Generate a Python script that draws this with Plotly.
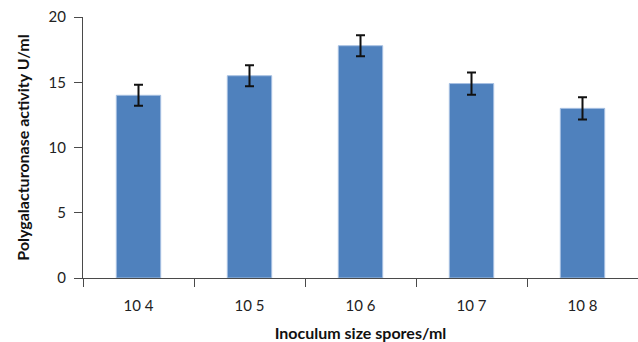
import plotly.graph_objects as go

# Inoculum size categories and measured polygalacturonase activity
categories = ["10 4", "10 5", "10 6", "10 7", "10 8"]
activity = [14.0, 15.5, 17.8, 14.9, 13.0]
errors = [0.8, 0.8, 0.8, 0.85, 0.85]
y_ticks = [0, 5, 10, 15, 20]

axis_color = "#4a4a4a"
font_family = "Lato, 'Open Sans', sans-serif"

fig = go.Figure(
    go.Bar(
        x=categories,
        y=activity,
        width=0.4,
        marker=dict(color="#4F81BD", line=dict(color="#a7c0e2", width=1)),
        error_y=dict(
            type="data",
            array=errors,
            visible=True,
            color="#111111",
            thickness=2,
            width=4.5,
        ),
    )
)

fig.update_layout(
    width=638,
    height=342,
    margin=dict(l=83, r=0, t=17, b=62),
    paper_bgcolor="white",
    plot_bgcolor="white",
    showlegend=False,
    font=dict(family=font_family, size=15, color="#222222"),
    bargap=0.6,
)

fig.update_xaxes(
    type="category",
    showline=True,
    linecolor=axis_color,
    linewidth=1,
    ticks="outside",
    tickson="boundaries",
    ticklen=8,
    tickwidth=1,
    tickcolor=axis_color,
    ticklabelstandoff=14,
    tickfont=dict(size=15, color="#222222"),
    title=dict(
        text="<b>Inoculum size spores/ml</b>",
        font=dict(size=16, color="#111111"),
        standoff=17,
    ),
    showgrid=False,
)

fig.update_yaxes(
    range=[0, 20],
    tickvals=y_ticks,
    showline=True,
    linecolor=axis_color,
    linewidth=1,
    ticks="outside",
    ticklen=8,
    tickwidth=1,
    tickcolor=axis_color,
    ticklabelstandoff=5,
    tickfont=dict(size=15, color="#222222"),
    title=dict(
        text="<b>Polygalacturonase activity U/ml</b>",
        font=dict(size=16, color="#111111"),
        standoff=14,
    ),
    showgrid=False,
    zeroline=False,
)

fig.write_html("out.html")
